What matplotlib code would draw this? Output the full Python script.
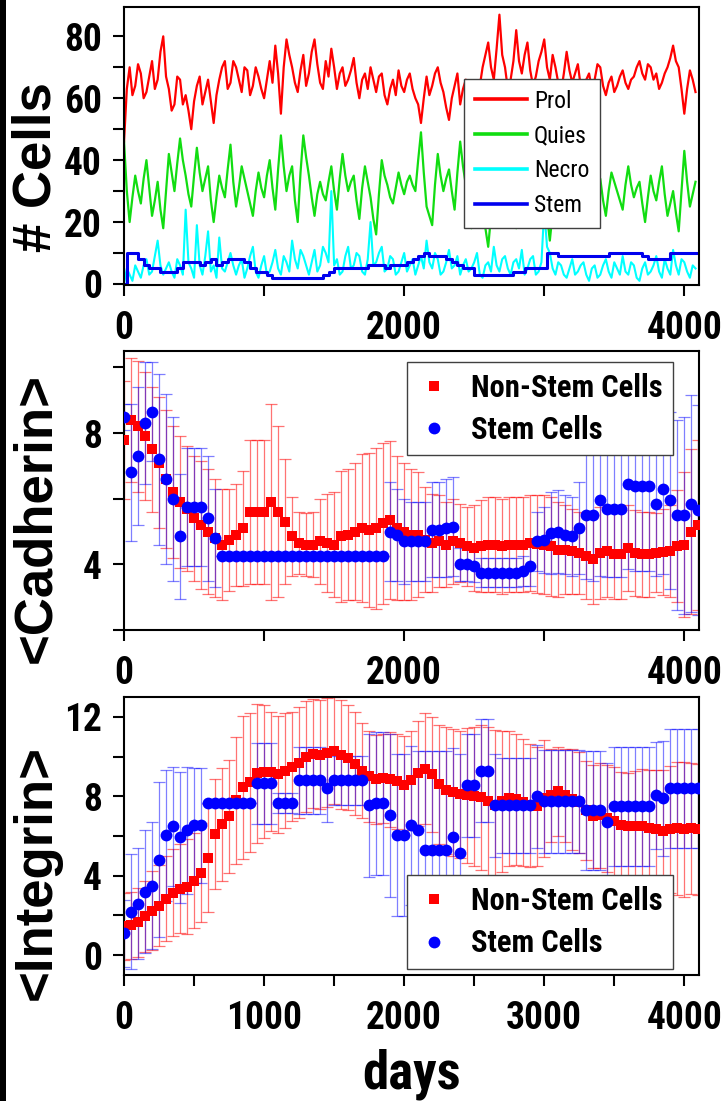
import numpy as np
import matplotlib
matplotlib.use('Agg')
import matplotlib.pyplot as plt
from matplotlib.ticker import MultipleLocator
from matplotlib import font_manager as fm
from matplotlib.patches import Rectangle

# fuente estrecha si existe, si no Liberation Sans
negritas = {f.name for f in fm.fontManager.ttflist if isinstance(f.weight, int) and f.weight >= 600
            or f.weight in ('bold', 'heavy', 'black', 'semibold', 'demibold')}
narrow = 'Liberation Sans'
for cand in ['Liberation Sans Narrow', 'Arial Narrow', 'Roboto Condensed', 'Archivo Narrow',
             'Asap Condensed', 'Open Sans Condensed']:
    if cand in negritas:
        narrow = cand
        break
wide = 'Liberation Sans'
plt.rcParams['font.family'] = [narrow, 'DejaVu Sans']
plt.rcParams['font.weight'] = 'bold'

# ---------------- panel 1: numero de celulas (cada ~20 dias)
prol = [46, 63, 70, 61, 64, 71, 68, 60, 62, 67, 72, 63, 66, 75, 80, 67, 63, 56, 58, 67,
        66, 58, 61, 56, 50, 59, 64, 67, 58, 62, 66, 59, 52, 61, 66, 70, 72, 63, 65, 72,
        70, 66, 62, 70, 69, 61, 64, 70, 67, 63, 60, 66, 72, 65, 77, 68, 55, 70, 79, 74,
        70, 65, 62, 69, 74, 64, 68, 75, 79, 71, 65, 63, 72, 67, 76, 70, 63, 68, 70, 64,
        66, 69, 73, 65, 60, 66, 68, 63, 70, 66, 62, 67, 68, 61, 58, 63, 66, 61, 69, 64,
        62, 66, 68, 63, 60, 58, 52, 60, 67, 61, 64, 68, 70, 65, 62, 57, 53, 60, 64, 68,
        58, 63, 66, 62, 60, 64, 57, 64, 70, 74, 78, 70, 66, 76, 87, 74, 70, 63, 66, 72,
        82, 72, 68, 74, 78, 69, 64, 67, 72, 75, 79, 70, 66, 74, 70, 65, 62, 68, 75, 69,
        65, 68, 71, 64, 62, 66, 68, 63, 66, 71, 70, 64, 61, 65, 67, 62, 64, 67, 69, 65,
        63, 66, 67, 70, 72, 68, 66, 71, 70, 66, 68, 63, 65, 68, 70, 73, 77, 72, 70, 63,
        55, 63, 69, 66, 62]
quies = [46, 30, 20, 28, 35, 30, 26, 34, 40, 31, 22, 27, 33, 24, 18, 30, 42, 36, 30, 39,
         47, 40, 35, 29, 25, 35, 44, 36, 30, 34, 38, 27, 20, 28, 35, 31, 28, 37, 45, 33,
         25, 31, 38, 34, 30, 26, 22, 30, 36, 31, 28, 35, 40, 31, 24, 37, 48, 38, 30, 35,
         38, 27, 20, 36, 48, 41, 35, 28, 22, 29, 33, 29, 27, 33, 38, 30, 24, 34, 42, 35,
         30, 33, 35, 27, 21, 31, 38, 33, 28, 21, 16, 29, 40, 35, 32, 28, 26, 31, 36, 32,
         29, 33, 35, 32, 30, 40, 49, 36, 25, 22, 19, 32, 42, 35, 30, 34, 37, 30, 24, 36,
         46, 38, 32, 24, 18, 29, 38, 31, 25, 18, 12, 22, 30, 35, 40, 30, 22, 28, 34, 26,
         18, 32, 44, 35, 28, 33, 36, 30, 25, 29, 33, 22, 14, 23, 30, 27, 25, 32, 38, 28,
         20, 28, 35, 31, 28, 35, 40, 32, 26, 30, 34, 27, 22, 30, 36, 33, 30, 27, 24, 32,
         38, 32, 28, 31, 33, 26, 20, 28, 35, 30, 27, 33, 38, 29, 22, 26, 30, 23, 17, 30,
         43, 33, 25, 29, 33]
necro = [0, 5, 3, 1, 6, 4, 2, 6, 8, 3, 4, 9, 14, 6, 3, 5, 7, 4, 2, 8,
         6, 3, 24, 7, 5, 2, 19, 6, 3, 9, 17, 4, 6, 2, 15, 5, 4, 7, 10, 6,
         3, 6, 8, 2, 5, 9, 12, 4, 2, 6, 9, 3, 4, 7, 11, 5, 3, 9, 7, 4,
         14, 8, 5, 11, 9, 6, 3, 7, 11, 4, 6, 12, 10, 7, 30, 6, 8, 3, 4, 9,
         12, 5, 6, 10, 9, 4, 3, 8, 20, 6, 7, 10, 12, 4, 5, 9, 8, 3, 4, 7,
         10, 4, 6, 8, 3, 6, 9, 5, 14, 7, 5, 10, 8, 3, 4, 7, 11, 5, 6, 9,
         3, 6, 8, 4, 5, 7, 10, 3, 2, 6, 7, 4, 12, 6, 4, 8, 9, 5, 3, 7,
         8, 5, 11, 3, 5, 8, 9, 3, 4, 7, 24, 12, 10, 5, 3, 7, 6, 3, 2, 5,
         8, 3, 4, 6, 7, 3, 1, 5, 6, 2, 3, 6, 8, 4, 2, 7, 5, 3, 9, 4,
         3, 7, 6, 2, 1, 5, 7, 3, 4, 6, 9, 4, 2, 8, 5, 3, 11, 6, 3, 8,
         7, 4, 2, 6, 5]
stem = [0, 10, 10, 8, 6, 5, 5, 4, 4, 4, 5, 7, 7, 7, 6, 7, 8, 6, 7, 8,
        8, 8, 7, 5, 4, 4, 3, 2, 2, 2, 2, 2, 2, 2, 2, 2, 3, 4, 5, 5,
        5, 5, 5, 5, 6, 6, 6, 5, 6, 6, 6, 7, 8, 9, 10, 9, 9, 9, 8, 7,
        6, 5, 5, 3, 3, 3, 3, 3, 3, 3, 4, 4, 5, 5, 5, 5, 10, 10, 9, 9,
        9, 9, 9, 9, 9, 9, 9, 10, 10, 10, 10, 10, 10, 9, 8, 8, 8, 8, 10, 10,
        10, 10, 10]

# ---------------- panel 2: cadherina (cada 50 dias)
cad_non = [7.8, 8.4, 8.2, 7.9, 7.5, 7.1, 6.6, 6.2, 5.9, 5.7, 5.4, 5.2, 5.0, 4.8, 4.6, 4.75, 4.9, 5.1,
           5.6, 5.6, 5.6, 5.9, 5.6, 5.3, 4.85, 4.65, 4.6, 4.6, 4.7, 4.65, 4.6, 4.85, 4.9, 5.0, 5.1,
           5.05, 5.1, 5.25, 5.35, 5.1, 5.0,
           4.9, 4.9, 4.75, 4.65, 4.7, 4.6, 4.7, 4.65, 4.55, 4.5, 4.55, 4.6, 4.6, 4.55, 4.6, 4.6, 4.6,
           4.65, 4.62, 4.6, 4.55, 4.45, 4.45, 4.4, 4.35, 4.25, 4.15, 4.35, 4.4, 4.3, 4.3, 4.5, 4.35,
           4.3, 4.3, 4.35, 4.38, 4.4, 4.55, 4.6, 5.0, 5.2]
cad_non_sd = [1.8, 1.9, 2.0, 1.95, 1.9, 2.0, 2.1, 2.0, 2.0, 1.9, 1.9, 1.95, 1.9, 1.8, 1.7, 1.55, 1.55,
              1.75, 2.2, 2.2, 2.2, 3.0, 2.6, 1.9, 1.2, 0.95, 0.95, 1.0, 1.3, 1.5, 1.6, 2.0, 2.0, 2.1,
              2.25, 2.35, 2.45, 2.45, 2.4, 2.2, 2.1,
              2.0, 1.9, 1.6, 1.5, 1.4, 1.3, 1.3, 1.2, 1.2, 1.3, 1.4, 1.45, 1.45, 1.45, 1.45, 1.45,
              1.45, 1.45, 1.5, 1.5, 1.5, 1.45, 1.35, 1.3, 1.25, 1.3, 1.35, 1.4, 1.4, 1.35, 1.35, 1.3,
              1.3, 1.3, 1.3, 1.2, 1.3, 1.4, 1.7, 2.2, 2.5, 2.6]
cad_stem = [8.5, 6.8, 7.3, 8.3, 8.65, 7.2, 6.6, 6.0, 4.85, 5.75, 5.75, 5.75, 5.4, 4.8,
            4.25, 4.25, 4.25, 4.25, 4.25, 4.25, 4.25, 4.25, 4.25, 4.25, 4.25, 4.25,
            4.25, 4.25, 4.25, 4.25, 4.25, 4.25, 4.25, 4.25, 4.25, 4.25, 4.25, 4.25,
            5.0, 4.9, 4.7,
            4.7, 4.7, 4.7, 5.05, 5.05, 5.1, 5.15, 4.0, 4.0, 3.95, 3.75, 3.75, 3.75, 3.75, 3.75,
            3.75, 3.8, 3.95, 4.7, 4.75, 4.95, 5.0, 4.9, 4.85, 5.1, 5.5, 5.5, 5.95, 5.7, 5.7, 5.7,
            6.45, 6.4, 6.4, 6.4, 5.85, 6.3, 5.95, 5.5, 5.5, 5.85, 5.65]
cad_stem_sd = [0.4, 2.1, 2.1, 1.85, 1.5, 2.6, 2.6, 2.5, 1.9, 1.8, 1.8, 1.8, 1.9, 1.5,
               0, 0, 0, 0, 0, 0, 0, 0, 0, 0, 0, 0, 0, 0, 0, 0, 0, 0, 0, 0, 0, 0, 0, 0,
               1.5, 1.4, 1.3,
               1.2, 1.2, 1.2, 1.45, 1.45, 1.5, 1.5, 0.5, 0.5, 0.5, 0.45, 0.45, 0.45, 0.45, 0.45,
               0.45, 0.45, 0.6, 0.9, 1.0, 1.25, 1.25, 1.2, 1.2, 1.4, 1.95, 2.0, 2.3, 2.1, 2.1, 2.1,
               2.6, 2.6, 2.6, 2.6, 2.2, 2.6, 2.7, 2.9, 3.0, 3.3, 3.2]

# ---------------- panel 3: integrina (cada 50 dias)
int_non = [1.45, 1.5, 1.65, 1.95, 2.25, 2.5, 2.85, 3.15, 3.35, 3.45, 3.75, 4.15, 4.9, 6.1, 6.6,
           7.0, 7.8, 8.45, 8.7, 9.15, 9.25, 9.25, 9.1, 9.3, 9.5, 9.7, 10.0, 10.15, 10.1, 10.2,
           10.3, 10.1, 9.95, 9.65, 9.3, 9.0, 8.85, 8.9, 8.85, 8.75, 8.55,
           8.8, 9.15, 9.4, 9.1, 8.6, 8.3, 8.2, 8.1, 8.05, 8.0, 7.95, 7.75, 7.55, 7.75, 7.9, 7.85,
           7.7, 7.55, 7.5, 7.9, 8.05, 8.25, 8.05, 7.85, 7.7, 7.3, 7.0, 7.05, 6.9, 6.75, 6.55, 6.5,
           6.5, 6.5, 6.4, 6.35, 6.25, 6.35, 6.4, 6.35, 6.4, 6.35]
int_non_sd = [1.7, 1.7, 1.75, 1.8, 2.0, 2.05, 2.15, 2.2, 2.25, 2.4, 2.4, 2.5, 2.7, 2.75, 2.85,
              2.85, 3.2, 3.6, 3.5, 3.5, 3.35, 3.0, 2.95, 2.9, 2.75, 2.8, 2.8, 2.75, 2.75, 2.75,
              2.7, 2.75, 2.65, 2.6, 2.4, 2.3, 2.25, 2.25, 2.4, 2.4, 2.5,
              2.5, 2.65, 2.8, 2.9, 3.0, 3.2, 3.2, 3.2, 3.4, 3.5, 3.65, 3.75, 3.8, 3.55, 3.4, 3.3,
              3.2, 3.1, 3.0, 2.95, 2.35, 2.25, 2.35, 2.55, 2.55, 2.5, 2.6, 2.65, 2.7, 2.75, 2.7,
              2.7, 2.8, 2.9, 2.95, 3.0, 3.1, 3.2, 3.35, 3.4, 3.3, 3.3]
int_stem = [1.1, 2.2, 2.6, 3.2, 3.5, 4.8, 6.05, 6.5, 5.95, 6.3, 6.55, 6.55,
            7.65, 7.65, 7.65, 7.65, 7.65, 7.65, 7.65, 8.65, 8.65, 8.65, 7.65, 7.65, 7.65,
            8.8, 8.8, 8.8, 8.8, 8.4, 8.8, 8.8, 8.8, 8.8, 8.8, 7.55, 7.65, 7.65, 7.05, 6.05, 6.05,
            6.55, 6.3, 5.3, 5.3, 5.3, 5.3, 5.95, 5.15, 8.55, 8.55, 9.3, 9.3,
            7.55, 7.55, 7.55, 7.55, 7.55, 7.55, 8.0, 7.75, 7.75, 7.75, 7.75, 7.75, 7.75,
            7.3, 7.3, 7.3, 6.7, 7.5, 7.5, 7.5, 7.5, 7.5, 7.5, 8.05, 7.9, 8.4, 8.4, 8.4, 8.4, 8.4]
int_stem_sd = [1.7, 2.9, 2.8, 3.1, 3.2, 3.9, 3.3, 3.0, 3.3, 3.2, 2.9, 2.9,
               0, 0, 0, 0, 0, 0, 0, 2.05, 2.05, 2.05, 0.5, 0.5, 0.5,
               1.7, 1.7, 1.7, 1.7, 1.7, 1.25, 1.25, 1.25, 1.25, 1.25, 3.6, 3.6, 3.6, 4.1, 4.1, 4.1,
               4.0, 4.0, 5.0, 5.0, 5.0, 5.0, 4.5, 5.0, 2.6, 2.6, 2.6, 2.6, 2.6,
               2.4, 2.4, 2.4, 2.4, 2.4, 2.6, 2.6, 2.6, 2.6, 2.6, 2.6, 2.6,
               3.0, 3.0, 3.0, 3.0, 3.0, 3.0, 3.0, 3.0, 3.0, 3.0, 2.7, 2.9, 3.0, 3.0, 3.0, 3.0, 3.0]

t_top = np.linspace(0, 4080, len(prol))
t_stem = np.linspace(0, 4080, len(stem))
t_cad = np.linspace(0, 4100, len(cad_non))
t_int = np.linspace(0, 4100, len(int_non))

ROJO = '#FF0000'
AZUL = '#0000FF'


def estilo(ax, xmaj, xmin, ymaj, ymin):
    ax.xaxis.set_major_locator(MultipleLocator(xmaj))
    ax.xaxis.set_minor_locator(MultipleLocator(xmin))
    ax.yaxis.set_major_locator(MultipleLocator(ymaj))
    ax.yaxis.set_minor_locator(MultipleLocator(ymin))
    ax.tick_params(which='both', direction='out', length=8, width=1.5,
                   top=False, right=False, labelsize=27)
    ax.tick_params(axis='x', pad=10)
    ax.tick_params(axis='y', pad=8)
    for s in ax.spines.values():
        s.set_linewidth(1.5)
    ax.set_xlim(0, 4105)


def puntos(ax, t, non, non_sd, st, st_sd):
    ax.errorbar(t, non, yerr=non_sd, fmt='none', ecolor=(1, 0, 0, 0.55),
                elinewidth=0.9, capsize=4, capthick=0.9, zorder=2)
    ax.errorbar(t, st, yerr=st_sd, fmt='none', ecolor=(0, 0, 1, 0.5),
                elinewidth=0.9, capsize=4, capthick=0.9, zorder=2.1)
    h1, = ax.plot(t, non, 's', color=ROJO, ms=7, mew=0, zorder=3, label='Non-Stem Cells')
    h2, = ax.plot(t, st, 'o', color=AZUL, ms=8.5, mew=0, zorder=4, label='Stem Cells')
    return [h1, h2]


fig = plt.figure(figsize=(7.27, 11.01), dpi=100)
ax1 = fig.add_axes([0.1706, 0.7407, 0.7909, 0.2530])
ax2 = fig.add_axes([0.1706, 0.4278, 0.7909, 0.2534])
ax3 = fig.add_axes([0.1706, 0.1144, 0.7909, 0.2525])

# panel 1
ax1.plot(t_top, prol, color=ROJO, lw=1.6, label='Prol')
ax1.plot(t_top, quies, color='#11DD11', lw=1.6, label='Quies')
ax1.plot(t_top, necro, color='#00FFFF', lw=1.5, label='Necro')
ax1.plot(t_stem, stem, color='#0000EE', lw=2.2, drawstyle='steps-mid', label='Stem')
estilo(ax1, 2000, 1000, 20, 10)
ax1.set_ylim(-0.5, 89.5)
ax1.set_ylabel('# Cells', fontsize=38, family=wide, fontweight='bold', va='center')
ax1.yaxis.set_label_coords(-0.152, 0.425)
leg1 = ax1.legend(loc='upper right', bbox_to_anchor=(0.828, 0.741), borderaxespad=0,
                  prop=dict(family=narrow, weight='normal', size=17), fancybox=False,
                  edgecolor='#404040', framealpha=1, handlelength=2.2, handletextpad=0.3,
                  borderpad=0.45, labelspacing=0.5)
leg1.get_frame().set_linewidth(1.0)
for l in leg1.get_lines():
    l.set_linewidth(2.6)

# panel 2
hs = puntos(ax2, t_cad, cad_non, cad_non_sd, cad_stem, cad_stem_sd)
estilo(ax2, 2000, 1000, 4, 2)
ax2.set_ylim(2, 10.5)
ax2.set_ylabel('<Cadherin>', fontsize=38, family=wide, fontweight='bold', va='center')
ax2.yaxis.set_label_coords(-0.152, 0.40)
leg2 = ax2.legend(handles=hs, loc='upper right', bbox_to_anchor=(0.955, 0.961), borderaxespad=0,
                  fontsize=22, fancybox=False, edgecolor='#404040', framealpha=1,
                  borderpad=0.35, handlelength=1.1, handletextpad=0.65, labelspacing=0.4)
leg2.get_frame().set_linewidth(1.0)

# panel 3
hs = puntos(ax3, t_int, int_non, int_non_sd, int_stem, int_stem_sd)
estilo(ax3, 1000, 500, 4, 2)
ax3.set_ylim(-1, 13)
ax3.set_ylabel('<Integrin>', fontsize=38, family=wide, fontweight='bold', va='center')
ax3.yaxis.set_label_coords(-0.152, 0.37)
ax3.set_xlabel('days', fontsize=38, fontweight='bold', labelpad=8)
leg3 = ax3.legend(handles=hs, loc='lower right', bbox_to_anchor=(0.955, 0.022), borderaxespad=0,
                  fontsize=22, fancybox=False, edgecolor='#404040', framealpha=1,
                  borderpad=0.35, handlelength=1.1, handletextpad=0.65, labelspacing=0.4)
leg3.get_frame().set_linewidth(1.0)

# borde negro a la izquierda
fig.add_artist(Rectangle((0, 0), 6 / 727, 1, transform=fig.transFigure,
                         facecolor='black', edgecolor='none'))

fig.savefig('out.png', dpi=100)
